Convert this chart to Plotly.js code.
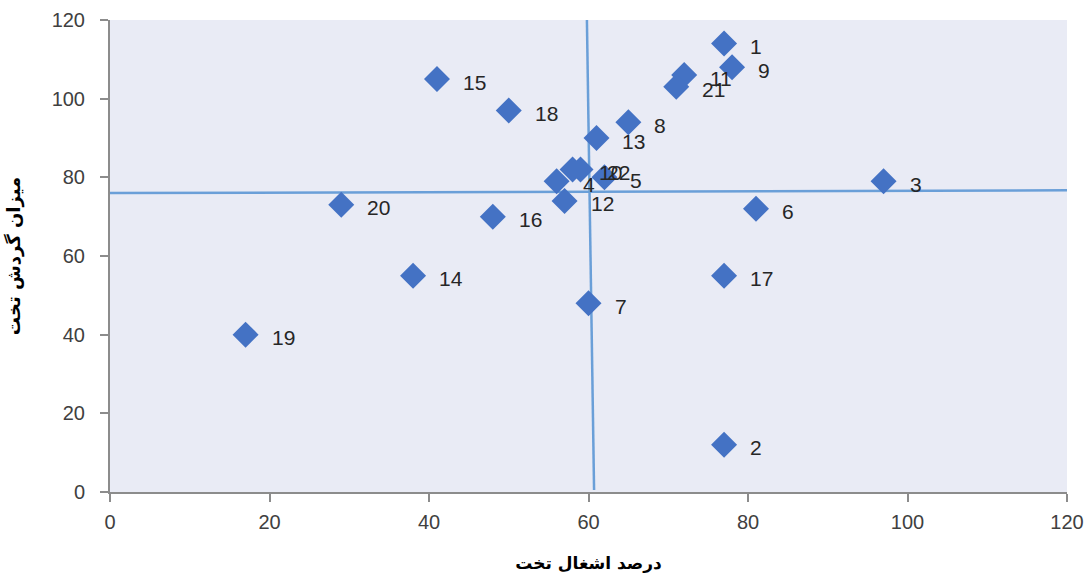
<!DOCTYPE html>
<html>
<head>
<meta charset="utf-8">
<script src="https://cdn.plot.ly/plotly-3.0.1.min.js"></script>
<style>html,body{margin:0;padding:0;background:#fff;}#chart{width:1088px;height:573px;}</style>
</head>
<body>
<div id="chart"></div>
<script>
// Data
const labels = ["1","2","3","4","5","6","7","8","9","10","11","12","13","14","15","16","17","18","19","20","21","22"];
const occupancy = [77, 77, 97, 56, 62, 81, 60, 65, 78, 58, 72, 57, 61, 38, 41, 48, 77, 50, 17, 29, 71, 59];
const turnover  = [114, 12, 79, 79, 80, 72, 48, 94, 108, 82, 106, 74, 90, 55, 105, 70, 55, 97, 40, 73, 103, 82];

// Reference (mean) lines
const hLineX = [0, 120];
const hLineY = [76, 76.7];
const vLineX = [59.8, 60.7];
const vLineY = [120, 0.5];

const xTicks = [0, 20, 40, 60, 80, 100, 120];
const yTicks = [0, 20, 40, 60, 80, 100, 120];

const numFont = "Liberation Sans, Arial, sans-serif";
const arFont = "DejaVu Sans, Noto Sans, sans-serif";

const traces = [
  {x: hLineX, y: hLineY, mode: 'lines', line: {color: '#6A9FD8', width: 2.5}, hoverinfo: 'skip'},
  {x: vLineX, y: vLineY, mode: 'lines', line: {color: '#6A9FD8', width: 2.5}, hoverinfo: 'skip'},
  {x: occupancy, y: turnover, mode: 'markers', type: 'scatter',
   marker: {symbol: 'diamond', size: 20, color: '#4472C4', line: {width: 0}}}
];

const annotations = labels.map((t, i) => ({
  x: occupancy[i], y: turnover[i], xref: 'x', yref: 'y', text: t, showarrow: false,
  xanchor: 'left', yanchor: 'middle', xshift: 24, yshift: -3,
  font: {family: numFont, size: 21, color: '#262626'}
}));

const layout = {
  width: 1088, height: 573,
  margin: {l: 110, r: 21, t: 20, b: 81},
  paper_bgcolor: '#ffffff',
  plot_bgcolor: '#E9EBF5',
  showlegend: false,
  xaxis: {
    range: [0, 120], tickvals: xTicks, ticktext: xTicks.map(String),
    showgrid: false, zeroline: false, showline: true, linecolor: '#8C8C8C', linewidth: 2,
    ticks: 'outside', ticklen: 8, tickcolor: '#8C8C8C', tickwidth: 2,
    tickfont: {family: numFont, size: 20, color: '#404040'},
    ticklabelstandoff: 3,
    title: {text: 'درصد اشغال تخت', font: {family: arFont, size: 17, color: '#000000', weight: 'bold'}, standoff: 25}
  },
  yaxis: {
    range: [0, 120], tickvals: yTicks, ticktext: yTicks.map(String),
    showgrid: false, zeroline: false, showline: true, linecolor: '#8C8C8C', linewidth: 2,
    ticks: 'outside', ticklen: 8, tickcolor: '#8C8C8C', tickwidth: 2,
    tickfont: {family: numFont, size: 20, color: '#404040'},
    ticklabelstandoff: 11,
    title: {text: 'میزان گردش تخت', font: {family: arFont, size: 18, color: '#000000', weight: 'bold'}, standoff: 26}
  },
  annotations: annotations
};

Plotly.newPlot('chart', traces, layout, {displayModeBar: false, staticPlot: true});
</script>
</body>
</html>
